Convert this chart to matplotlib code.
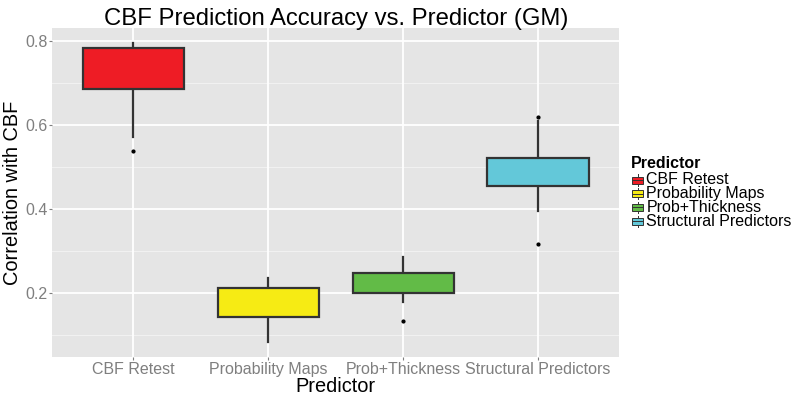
import matplotlib
matplotlib.use('Agg')
import matplotlib.pyplot as plt
from matplotlib.patches import Rectangle
from matplotlib.lines import Line2D

plt.rcParams['font.family'] = ['Liberation Sans', 'DejaVu Sans']

# valores
categorias = ['CBF Retest', 'Probability Maps', 'Prob+Thickness', 'Structural Predictors']
cores = ['#EE1C25', '#F6EB14', '#62BB47', '#63C8D9']
q1 = [0.685, 0.141, 0.200, 0.455]
medianas = [0.721, 0.177, 0.221, 0.486]
q3 = [0.783, 0.210, 0.246, 0.520]
whis_baixo = [0.571, 0.083, 0.177, 0.394]
whis_alto = [0.795, 0.234, 0.284, 0.609]
outliers = [[0.537], [], [0.133], [0.315, 0.619]]

cinza_texto = '#7F7F7F'
contorno = '#333333'

fig = plt.figure(figsize=(8, 4), dpi=100)
ax = fig.add_axes([0.0656, 0.1075, 0.708, 0.8225])
ax.set_facecolor('#E5E5E5')

# grade
for v in [0.1, 0.3, 0.5, 0.7]:
    ax.axhline(v, color='#F2F2F2', lw=0.7, zorder=0)
for v in [0.2, 0.4, 0.6, 0.8]:
    ax.axhline(v, color='white', lw=1.3, zorder=0)
for x in range(1, len(categorias) + 1):
    ax.axvline(x, color='white', lw=1.3, zorder=0)

stats = []
for i, nome in enumerate(categorias):
    stats.append(dict(label=nome, med=medianas[i], q1=q1[i], q3=q3[i],
                      whislo=whis_baixo[i], whishi=whis_alto[i], fliers=outliers[i]))

bp = ax.bxp(stats, positions=range(1, len(categorias) + 1), widths=0.75,
            patch_artist=True, showcaps=False,
            boxprops=dict(edgecolor=contorno, linewidth=1.6),
            medianprops=dict(color=contorno, linewidth=1.6),
            whiskerprops=dict(color=contorno, linewidth=1.6),
            flierprops=dict(marker='o', markersize=2.0, markerfacecolor='black',
                            markeredgecolor='black'))
for caixa, cor in zip(bp['boxes'], cores):
    caixa.set_facecolor(cor)
    caixa.set_zorder(3)

ax.set_xlim(0.4, 4.6)
ax.set_ylim(0.0469, 0.830)
ax.set_yticks([0.2, 0.4, 0.6, 0.8])
ax.set_yticklabels(['0.2', '0.4', '0.6', '0.8'])
ax.tick_params(axis='both', colors=cinza_texto, labelsize=11.5, length=2.5, width=0.8, pad=1)
for lado in ax.spines.values():
    lado.set_visible(False)

ax.set_ylabel('Correlation with CBF', fontsize=14.4, labelpad=2)
fig.text(0.4197, 1 - 392.5 / 400, 'Predictor', ha='center', va='baseline', fontsize=14.4)
fig.text(336 / 800, 1 - 25 / 400, 'CBF Prediction Accuracy vs. Predictor (GM)',
         ha='center', va='baseline', fontsize=17.2)

# legenda desenhada à mão (linhas bem juntas como no ggplot)
fig.text(631 / 800, 1 - 163 / 400, 'Predictor', fontsize=11.5, fontweight='bold',
         ha='left', va='center')
for i, (nome, cor) in enumerate(zip(categorias, cores)):
    yc = 1 - (180 + i * 13.7) / 400
    fig.patches.append(Rectangle((632 / 800, yc - 3.5 / 400), 11 / 800, 7 / 400,
                                 transform=fig.transFigure, facecolor=cor,
                                 edgecolor=contorno, lw=0.7))
    fig.lines.append(Line2D([632 / 800, 643 / 800], [yc, yc], transform=fig.transFigure,
                            color=contorno, lw=0.7))
    fig.lines.append(Line2D([637.5 / 800, 637.5 / 800], [yc - 5.5 / 400, yc + 5.5 / 400],
                            transform=fig.transFigure, color=contorno, lw=0.7, zorder=0))
    fig.text(646.5 / 800, yc, nome, fontsize=11.5, ha='left', va='center')

plt.savefig('out.png', dpi=100)
